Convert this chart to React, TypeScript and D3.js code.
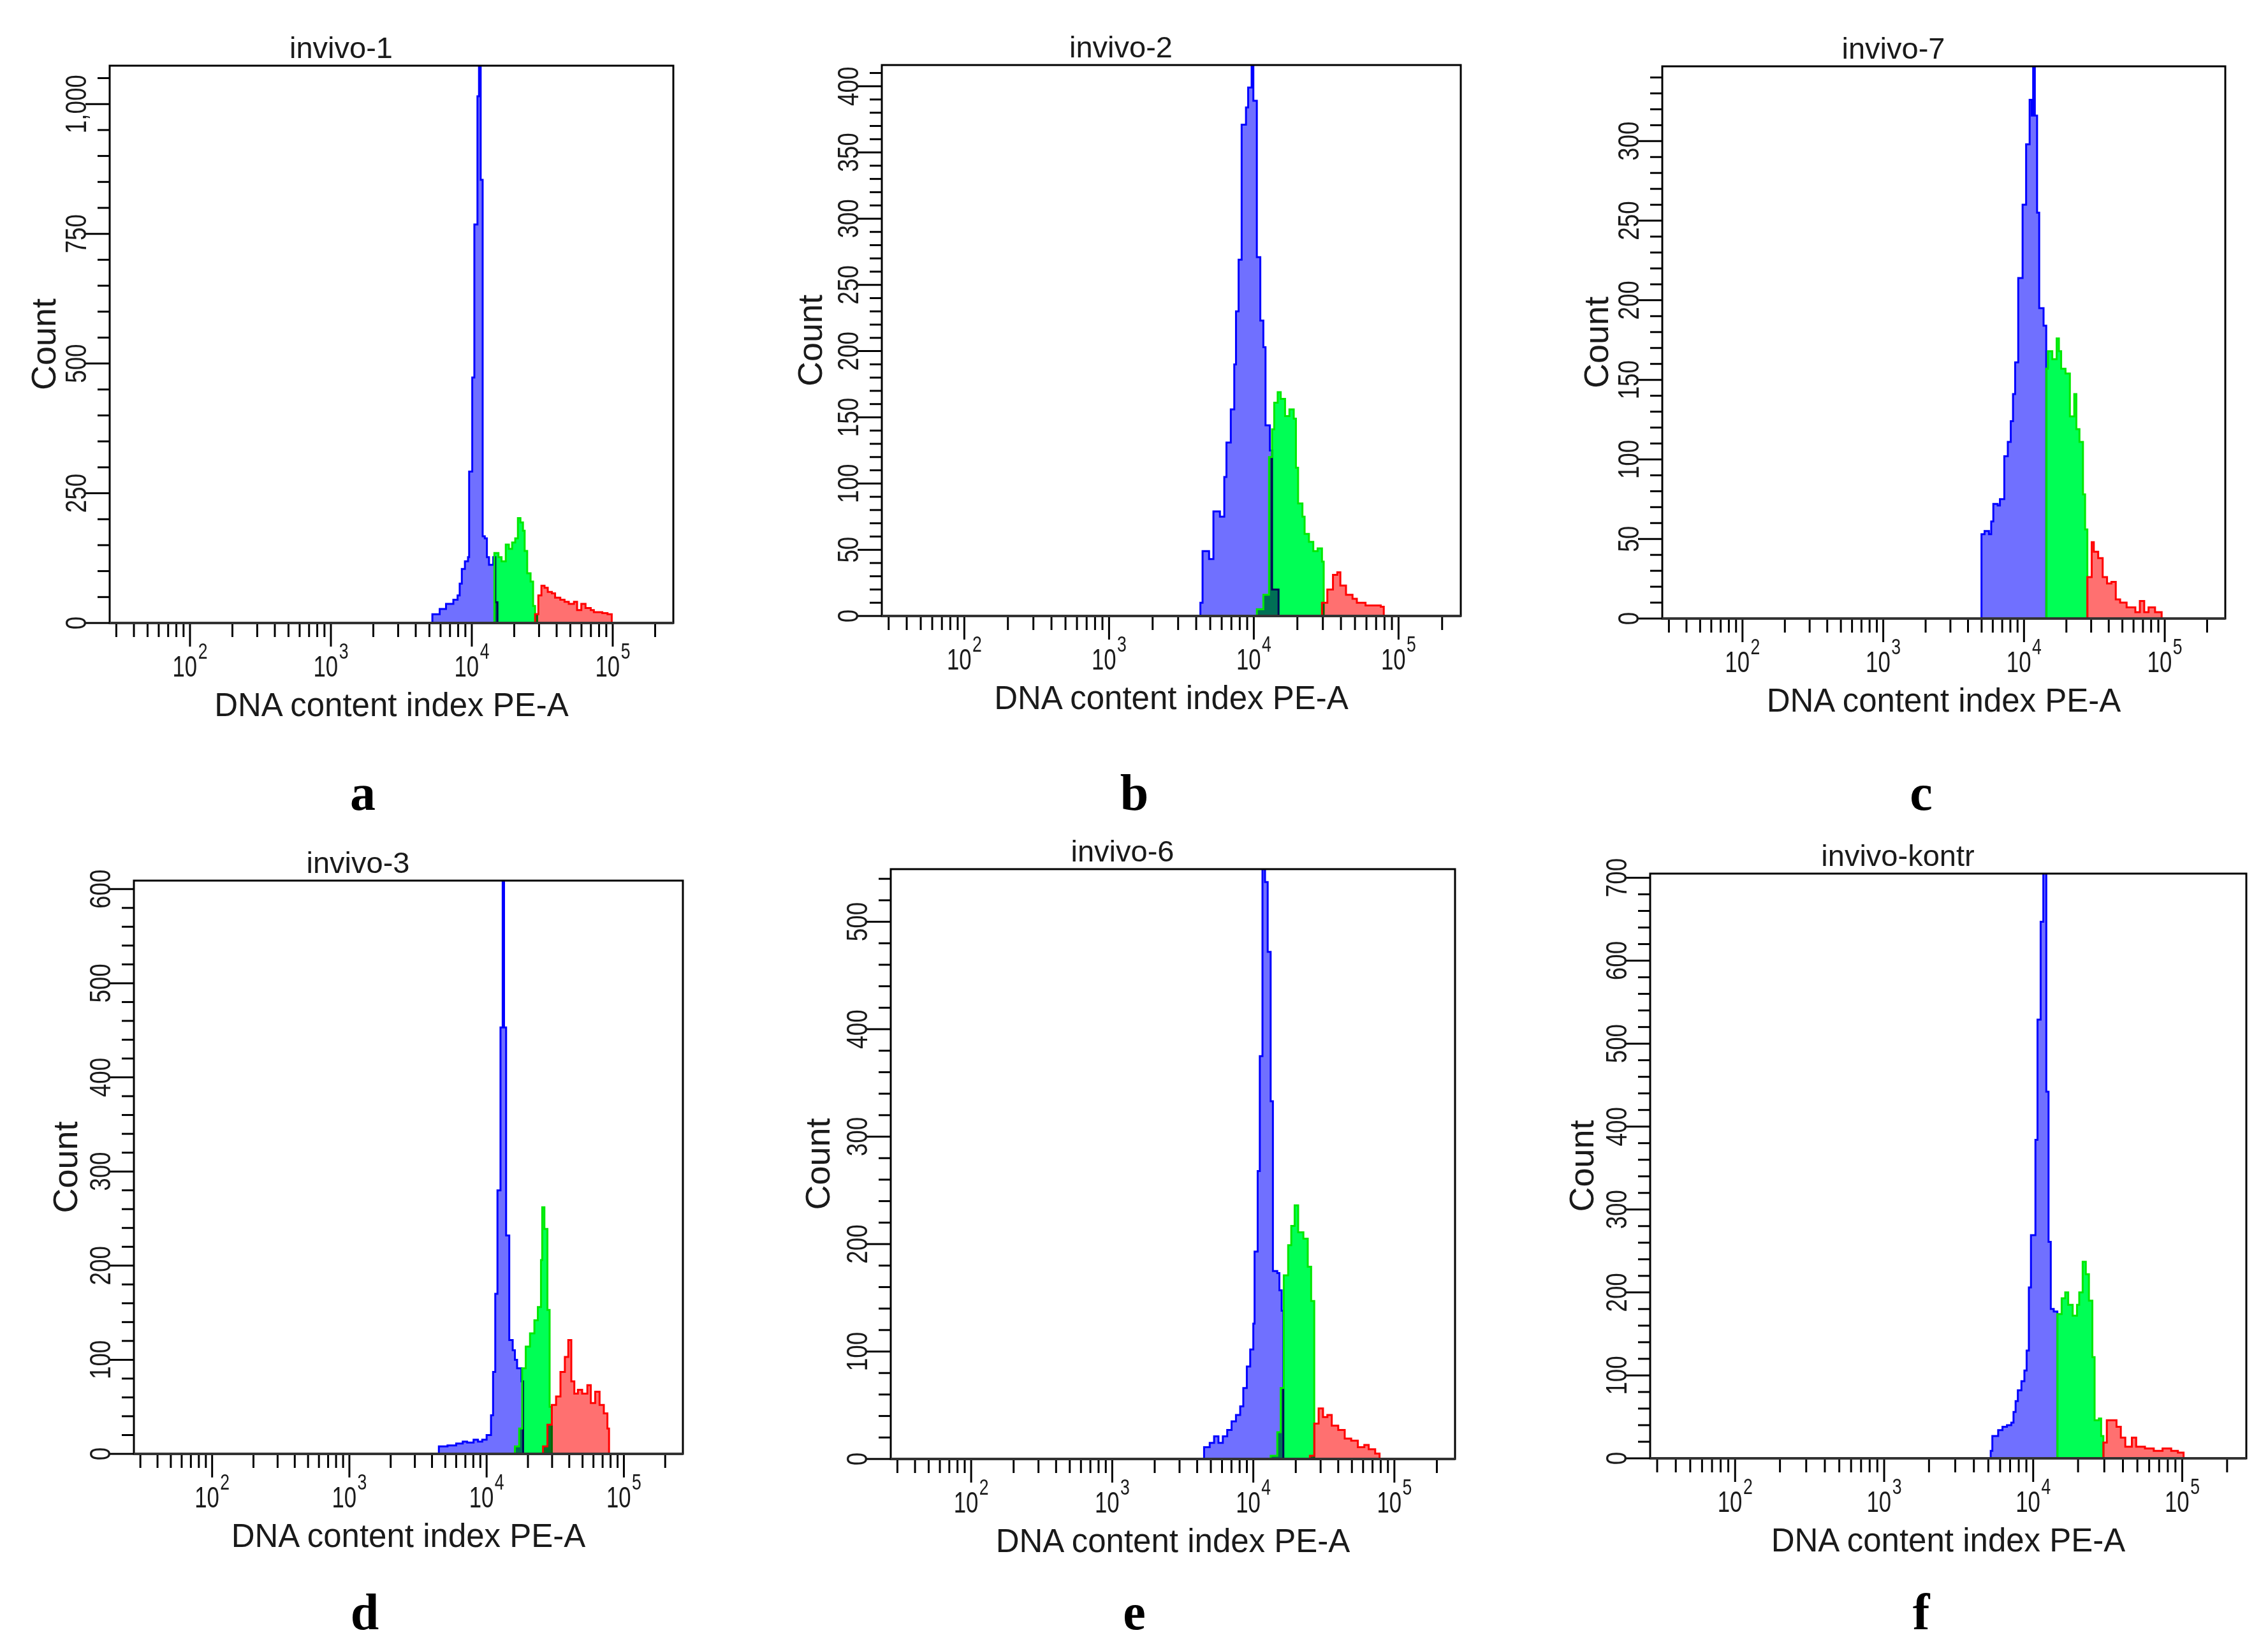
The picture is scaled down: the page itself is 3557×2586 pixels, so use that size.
import React from 'react';
import * as d3 from 'd3';

// DNA content histograms (FACS, PE-A). x values are log10 of the channel value
// at the left edge of each step, y values are the count of that step.

// a – invivo-1
const aBlueX = [3.72, 3.772, 3.817, 3.869, 3.899, 3.914, 3.929, 3.951, 3.973, 3.981, 4.003, 4.018, 4.04, 4.051, 4.063, 4.077, 4.092, 4.107, 4.122, 4.152, 4.167, 4.182];
const aBlueY = [17, 27, 37, 45, 53, 76, 104, 119, 127, 292, 473, 768, 1015, 1100, 854, 167, 163, 127, 112, 127, 40, 0];
const aGreenX = [4.16, 4.189, 4.211, 4.241, 4.263, 4.286, 4.308, 4.327, 4.345, 4.363, 4.375, 4.393, 4.417, 4.435, 4.449, 4.464];
const aGreenY = [135, 127, 119, 151, 143, 155, 163, 202, 194, 178, 139, 96, 80, 33, 17, 0];
const aRedX = [4.449, 4.472, 4.494, 4.516, 4.539, 4.568, 4.591, 4.628, 4.658, 4.688, 4.725, 4.747, 4.777, 4.807, 4.844, 4.866, 4.896, 4.926, 4.963, 4.993];
const aRedY = [17, 53, 72, 68, 60, 57, 49, 45, 41, 37, 41, 25, 37, 29, 25, 21, 21, 19, 17, 0];

// b – invivo-2
const bBlueX = [3.631, 3.646, 3.691, 3.721, 3.766, 3.796, 3.811, 3.841, 3.865, 3.877, 3.895, 3.916, 3.946, 3.961, 3.985, 3.997, 4.021, 4.045, 4.066, 4.081, 4.111, 4.126, 4.171];
const bBlueY = [10, 49, 43, 79, 75, 105, 131, 156, 190, 230, 269, 371, 384, 399, 430, 389, 271, 223, 203, 144, 125, 20, 0];
const bGreenX = [4.021, 4.066, 4.105, 4.126, 4.141, 4.165, 4.186, 4.216, 4.246, 4.276, 4.291, 4.306, 4.336, 4.351, 4.381, 4.411, 4.441, 4.471, 4.483];
const bGreenY = [5, 16, 120, 141, 161, 169, 164, 151, 156, 149, 112, 85, 75, 62, 56, 49, 51, 41, 0];
const bRedX = [4.471, 4.508, 4.547, 4.577, 4.598, 4.637, 4.682, 4.712, 4.772, 4.832, 4.877, 4.898];
const bRedY = [10, 20, 31, 33, 23, 16, 13, 10, 8, 8, 7, 0];

// c – invivo-7
const cBlueX = [3.698, 3.72, 3.751, 3.767, 3.782, 3.813, 3.829, 3.86, 3.885, 3.906, 3.922, 3.937, 3.959, 3.99, 4.015, 4.04, 4.055, 4.065, 4.077, 4.093, 4.108, 4.139, 4.158];
const cBlueY = [53, 55, 53, 61, 72, 71, 75, 102, 111, 124, 141, 161, 214, 260, 298, 326, 316, 360, 316, 255, 195, 184, 0];
const cGreenX = [4.158, 4.17, 4.201, 4.232, 4.248, 4.264, 4.295, 4.326, 4.357, 4.372, 4.394, 4.419, 4.434, 4.45];
const cGreenY = [157, 168, 163, 176, 168, 157, 154, 127, 141, 119, 111, 78, 56, 0];
const cRedX = [4.45, 4.481, 4.496, 4.527, 4.559, 4.59, 4.621, 4.652, 4.683, 4.729, 4.791, 4.823, 4.854, 4.885, 4.931, 4.978];
const cRedY = [26, 48, 42, 38, 26, 22, 23, 12, 10, 7, 4, 11, 4, 7, 4, 0];

// d – invivo-3
const dBlueX = [3.652, 3.715, 3.778, 3.826, 3.858, 3.905, 3.937, 3.968, 4.0, 4.032, 4.047, 4.063, 4.079, 4.101, 4.117, 4.127, 4.142, 4.165, 4.19, 4.206, 4.222, 4.253, 4.266];
const dBlueY = [8, 9, 11, 13, 12, 15, 13, 15, 20, 41, 87, 170, 280, 453, 620, 453, 232, 121, 110, 100, 91, 77, 0];
const dGreenX = [4.206, 4.237, 4.259, 4.285, 4.316, 4.348, 4.373, 4.396, 4.405, 4.421, 4.443, 4.459, 4.475];
const dGreenY = [8, 27, 91, 114, 128, 142, 156, 206, 262, 239, 153, 50, 0];
const dRedX = [4.411, 4.443, 4.475, 4.506, 4.538, 4.57, 4.595, 4.617, 4.639, 4.665, 4.696, 4.734, 4.759, 4.791, 4.823, 4.854, 4.88, 4.892];
const dRedY = [8, 31, 52, 61, 87, 103, 121, 77, 64, 68, 64, 73, 54, 66, 52, 43, 27, 0];

// e – invivo-6
const eBlueX = [3.651, 3.691, 3.722, 3.753, 3.784, 3.815, 3.846, 3.877, 3.907, 3.929, 3.954, 3.978, 4.0, 4.009, 4.031, 4.046, 4.065, 4.083, 4.102, 4.123, 4.139, 4.17, 4.185, 4.201, 4.213];
const eBlueY = [11, 15, 21, 15, 21, 27, 35, 41, 49, 66, 86, 102, 126, 193, 268, 375, 560, 537, 472, 333, 175, 173, 157, 138, 0];
const eGreenX = [4.123, 4.17, 4.194, 4.216, 4.247, 4.269, 4.293, 4.318, 4.355, 4.386, 4.41, 4.432];
const eGreenY = [3, 25, 66, 171, 199, 217, 236, 211, 205, 179, 147, 0];
const eRedX = [4.401, 4.432, 4.463, 4.494, 4.525, 4.556, 4.602, 4.648, 4.694, 4.741, 4.787, 4.818, 4.864, 4.895];
const eRedY = [3, 33, 47, 39, 41, 31, 27, 19, 17, 11, 13, 9, 5, 0];

// f – invivo-kontr
const fBlueX = [3.715, 3.726, 3.765, 3.794, 3.824, 3.853, 3.868, 3.882, 3.897, 3.921, 3.941, 3.956, 3.971, 3.985, 4.015, 4.029, 4.05, 4.068, 4.088, 4.103, 4.118, 4.138, 4.162];
const fBlueY = [9, 27, 34, 38, 40, 43, 56, 69, 82, 93, 106, 130, 206, 269, 384, 529, 647, 720, 442, 261, 180, 177, 0];
const fGreenX = [4.162, 4.191, 4.215, 4.235, 4.265, 4.294, 4.309, 4.332, 4.353, 4.374, 4.397, 4.412, 4.441, 4.456, 4.471];
const fGreenY = [174, 193, 200, 185, 172, 185, 200, 237, 222, 190, 122, 46, 48, 27, 0];
const fRedX = [4.471, 4.494, 4.529, 4.559, 4.588, 4.618, 4.662, 4.691, 4.75, 4.809, 4.868, 4.926, 4.971, 5.009];
const fRedY = [19, 46, 46, 38, 25, 14, 25, 14, 12, 9, 12, 9, 7, 0];

const titles = ['invivo-1', 'invivo-2', 'invivo-7', 'invivo-3', 'invivo-6', 'invivo-kontr'];
const letters = ['a', 'b', 'c', 'd', 'e', 'f'];
const yTops = [1074, 416, 347, 609, 549, 705];
const yMinor = [50, 10, 10, 20, 20, 20];
const yMajor = [250, 50, 50, 100, 100, 100];
const xLogDomain = [1.43, 5.43];

const series = [
  [[aBlueX, aBlueY], [aGreenX, aGreenY], [aRedX, aRedY]],
  [[bBlueX, bBlueY], [bGreenX, bGreenY], [bRedX, bRedY]],
  [[cBlueX, cBlueY], [cGreenX, cGreenY], [cRedX, cRedY]],
  [[dBlueX, dBlueY], [dGreenX, dGreenY], [dRedX, dRedY]],
  [[eBlueX, eBlueY], [eGreenX, eGreenY], [eRedX, eRedY]],
  [[fBlueX, fBlueY], [fGreenX, fGreenY], [fRedX, fRedY]],
];

// layout (pixels): plot frames [x0, y0, x1, y1]
const frames = [
  [172, 103, 1056, 977],
  [1383, 102, 2291, 966],
  [2607, 104, 3490, 970],
  [210, 1381, 1071, 2280],
  [1397, 1363, 2282, 2288],
  [2588, 1370, 3523, 2287],
];
const countOffsets = [85, 94, 85, 89, 96, 89];
const letterPos = [[569, 1270], [1779, 1270], [3013, 1270], [572, 2555], [1779, 2555], [3013, 2555]];

const fills = ['#7070ff', '#00ff55', '#ff7070'];
const strokes = ['#0000ff', '#00e800', '#ff0000'];
const SANS = '"Liberation Sans", Arial, sans-serif';
const TEXT = '#1a1a1a';

type Pt = [number, number];

const Panel: React.FC<{ i: number }> = ({ i }) => {
  const [x0, y0, x1, y1] = frames[i];
  const x = d3.scaleLog().domain([10 ** xLogDomain[0], 10 ** xLogDomain[1]]).range([x0, x1]);
  const y = d3.scaleLinear().domain([0, yTops[i]]).range([y1, y0]);

  const area = d3.area<Pt>()
    .x(d => x(10 ** d[0]))
    .y0(y(0))
    .y1(d => y(d[1]))
    .curve(d3.curveStepAfter);
  const line = d3.line<Pt>()
    .x(d => x(10 ** d[0]))
    .y(d => y(d[1]))
    .curve(d3.curveStepAfter);

  const xTicks = x.ticks();
  const isDecade = (t: number) => Math.abs(Math.log10(t) - Math.round(Math.log10(t))) < 1e-9;
  const yTicks = d3.range(0, yTops[i] + 1e-6, yMinor[i]);
  const fmt = d3.format(',');
  const cx = (x0 + x1) / 2;
  const clipId = `clip-${i}`;

  return (
    <g>
      <clipPath id={clipId}>
        <rect x={x0} y={y0} width={x1 - x0} height={y1 - y0} />
      </clipPath>

      <g clipPath={`url(#${clipId})`}>
        {series[i].map(([xs, ys], k) => {
          const pts: Pt[] = [[xs[0], 0], ...xs.map((v, j) => [v, ys[j]] as Pt)];
          return (
            <g key={k}>
              <path d={area(pts) || ''} fill={fills[k]} style={{ mixBlendMode: 'multiply' }} />
              <path d={line(pts) || ''} fill="none" stroke={strokes[k]} strokeWidth={3} />
            </g>
          );
        })}
      </g>

      {/* frame */}
      <rect x={x0} y={y0} width={x1 - x0} height={y1 - y0} fill="none" stroke="#000" strokeWidth={3} />
      <line x1={x0} x2={x1} y1={y1} y2={y1} stroke="#333" strokeWidth={4} />

      {/* x axis */}
      {xTicks.map(t => (
        <line key={`xt${t}`} x1={x(t)} x2={x(t)} y1={y1 + 2} y2={y1 + (isDecade(t) ? 37 : 22)} stroke="#000" strokeWidth={3} />
      ))}
      {xTicks.filter(isDecade).map(t => (
        <text key={`xl${t}`} transform={`translate(${x(t)},${y1 + 84}) scale(0.74,1)`} textAnchor="middle"
          fontFamily={SANS} fontSize={47} fill={TEXT}>
          10<tspan fontSize={36} dx={2} dy={-28}>{Math.round(Math.log10(t))}</tspan>
        </text>
      ))}
      <text x={cx} y={y1 + 146} textAnchor="middle" fontFamily={SANS} fontSize={51} fill={TEXT}>
        DNA content index PE-A
      </text>

      {/* y axis */}
      {yTicks.map(v => (
        <line key={`yt${v}`} x1={x0 - (v % yMajor[i] === 0 ? 38 : 19)} x2={x0} y1={y(v)} y2={y(v)} stroke="#000" strokeWidth={3} />
      ))}
      {yTicks.filter(v => v % yMajor[i] === 0).map(v => (
        <text key={`yl${v}`} transform={`translate(${x0 - 37},${y(v)}) rotate(-90) scale(0.8,1)`} textAnchor="middle"
          fontFamily={SANS} fontSize={46} fill={TEXT}>
          {fmt(v)}
        </text>
      ))}
      <text transform={`translate(${x0 - countOffsets[i]},${(y0 + y1) / 2}) rotate(-90)`} textAnchor="middle"
        fontFamily={SANS} fontSize={54} fill={TEXT}>
        Count
      </text>

      {/* title and panel letter */}
      <text x={cx - 79} y={y0 - 12} textAnchor="middle" fontFamily={SANS} fontSize={47} fill={TEXT}>
        {titles[i]}
      </text>
      <text x={letterPos[i][0]} y={letterPos[i][1]} textAnchor="middle"
        fontFamily='"Liberation Serif", "Times New Roman", serif' fontWeight="bold" fontSize={80} fill="#000">
        {letters[i]}
      </text>
    </g>
  );
};

const App: React.FC = () => {
  return (
    <div style={{ position: 'absolute', left: 0, top: 0 }}>
      <svg width={3557} height={2586} viewBox="0 0 3557 2586" style={{ display: 'block', background: '#fff' }}>
        <rect width={3557} height={2586} fill="#fff" />
        {titles.map((_, i) => <Panel key={i} i={i} />)}
      </svg>
    </div>
  );
};

export default App;
